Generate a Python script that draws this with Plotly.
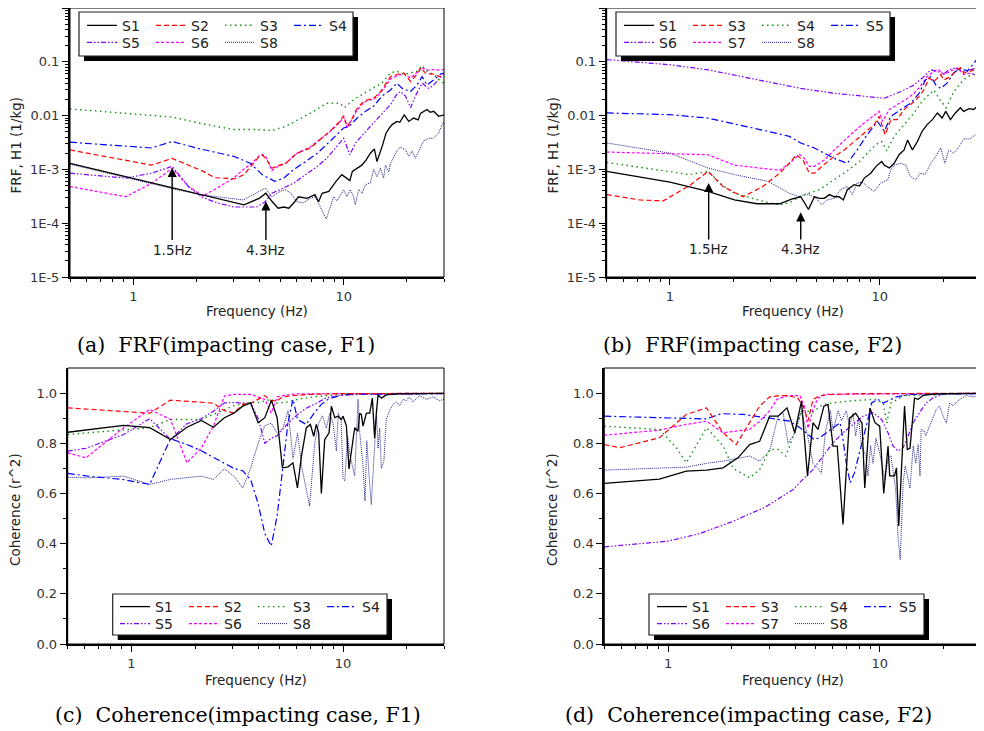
import math
import plotly.graph_objects as go

# page is rendered with an 8px body margin, so the figure is 8px smaller than the window
OFF = 8
W, H = 984 - OFF, 731 - OFF

# ---------------- data : panel (a) FRF, F1 ----------------
A_S1_F = [0.5, 0.92, 1.53, 2.44, 3.36, 3.97, 4.27, 4.58, 4.88, 5.19, 5.49, 5.8, 6.1, 6.7, 7.3, 7.6, 7.9, 8.5, 9.2, 9.8, 10.4, 10.7, 11.0, 11.6, 12.2, 12.8, 13.4, 14.0, 14.4, 15.3, 15.9, 16.5, 17.0, 17.9, 18.5, 19.4, 20.4, 21.5, 22.6, 23.2, 24.9, 25.8, 26.8, 28.3, 30.0]
A_S1_Y = [1.3e-3, 7.4e-4, 4.6e-4, 3.0e-4, 2.2e-4, 2.9e-4, 3.6e-4, 2.5e-4, 1.9e-4, 2.0e-4, 1.9e-4, 2.4e-4, 3.1e-4, 2.9e-4, 3.4e-4, 2.5e-4, 3.6e-4, 3.9e-4, 6.0e-4, 8.0e-4, 6.9e-4, 6.2e-4, 9.2e-4, 1.06e-3, 1.2e-3, 1.5e-3, 2.0e-3, 2.4e-3, 1.4e-3, 2.8e-3, 4.7e-3, 5.9e-3, 6.8e-3, 7.8e-3, 7.5e-3, 1.03e-2, 7.8e-3, 9.0e-3, 8.3e-3, 1.1e-2, 1.3e-2, 1.15e-2, 1.2e-2, 9.7e-3, 1.03e-2]
A_S2_F = [0.5, 1.22, 1.53, 2.14, 2.44, 3.05, 3.36, 3.66, 3.97, 4.1, 4.27, 4.56, 4.8, 5.3, 6.0, 6.94, 7.7, 8.6, 9.6, 10.0, 10.4, 10.9, 11.5, 12.2, 12.9, 13.9, 15.0, 15.8, 16.7, 17.9, 19.3, 20.8, 22.0, 23.4, 24.6, 26.8, 28.6, 30.0]
A_S2_Y = [2.3e-3, 1.2e-3, 1.6e-3, 9.3e-4, 7.0e-4, 6.7e-4, 8.0e-4, 1.2e-3, 1.75e-3, 1.85e-3, 1.6e-3, 1.05e-3, 1.15e-3, 1.3e-3, 2.0e-3, 2.5e-3, 3.5e-3, 5.1e-3, 7.8e-3, 1.0e-2, 6.3e-3, 8.4e-3, 1.3e-2, 1.7e-2, 1.95e-2, 2.1e-2, 2.8e-2, 3.8e-2, 5.3e-2, 5.8e-2, 6.2e-2, 4.3e-2, 5.5e-2, 7.7e-2, 6.0e-2, 5.9e-2, 5.3e-2, 4.9e-2]
A_S3_F = [0.5, 1.53, 2.08, 3.0, 3.8, 4.56, 5.3, 6.1, 7.2, 8.3, 9.6, 10.1, 11.2, 12.5, 13.9, 15.2, 16.7, 17.9, 19.3, 20.8, 22.3, 23.6, 24.9, 26.8, 28.9, 30.0]
A_S3_Y = [1.33e-2, 9.4e-3, 7.2e-3, 5.5e-3, 5.5e-3, 5.3e-3, 6.3e-3, 8.4e-3, 1.2e-2, 1.7e-2, 1.7e-2, 1.4e-2, 2.0e-2, 2.6e-2, 3.3e-2, 4.0e-2, 6.2e-2, 6.7e-2, 5.8e-2, 6.2e-2, 6.7e-2, 8.5e-2, 6.7e-2, 5.8e-2, 4.3e-2, 4.0e-2]
A_S4_F = [0.5, 1.22, 1.53, 2.08, 3.0, 3.6, 4.1, 4.7, 5.2, 5.8, 6.6, 7.5, 8.3, 9.3, 10.0, 10.6, 11.6, 12.7, 13.9, 15.2, 16.7, 17.9, 19.0, 20.8, 22.3, 23.6, 24.9, 26.8, 28.9, 30.0]
A_S4_Y = [3.2e-3, 2.5e-3, 3.3e-3, 2.4e-3, 1.75e-3, 1.3e-3, 8.0e-4, 6.0e-4, 6.9e-4, 1.0e-3, 1.4e-3, 2.0e-3, 2.9e-3, 4.4e-3, 5.9e-3, 6.3e-3, 9.0e-3, 1.2e-2, 1.5e-2, 2.3e-2, 3.0e-2, 4.0e-2, 3.2e-2, 2.8e-2, 3.7e-2, 5.3e-2, 3.7e-2, 4.6e-2, 5.9e-2, 6.2e-2]
A_S5_F = [0.5, 0.92, 1.22, 1.53, 1.83, 2.14, 2.5, 3.0, 3.34, 3.86, 4.24, 4.56, 4.99, 5.8, 6.6, 7.5, 8.3, 9.3, 10.0, 10.7, 11.4, 12.5, 13.9, 15.2, 16.7, 17.9, 18.6, 19.7, 20.8, 21.9, 23.6, 25.4, 26.8, 28.9, 30.0]
A_S5_Y = [8.5e-4, 6.9e-4, 8.5e-4, 1.14e-3, 4.8e-4, 3.0e-4, 2.4e-4, 2.0e-4, 2.0e-4, 2.0e-4, 2.5e-4, 3.6e-4, 4.2e-4, 5.6e-4, 8.0e-4, 1.14e-3, 1.6e-3, 2.7e-3, 3.8e-3, 1.87e-3, 3.1e-3, 4.7e-3, 7.3e-3, 1.04e-2, 1.6e-2, 2.5e-2, 2.8e-2, 2.3e-2, 1.4e-2, 2.3e-2, 4.0e-2, 3.2e-2, 3.7e-2, 5.3e-2, 5.8e-2]
A_S6_F = [0.5, 0.92, 1.22, 1.53, 1.83, 2.14, 2.5, 3.0, 3.34, 3.66, 3.97, 4.1, 4.27, 4.56, 4.8, 5.3, 6.0, 6.94, 7.7, 8.6, 9.6, 10.0, 10.4, 10.9, 11.5, 12.2, 12.9, 13.9, 15.0, 15.8, 16.7, 17.9, 19.3, 20.8, 22.0, 23.4, 24.6, 26.8, 28.6, 30.0]
A_S6_Y = [4.8e-4, 3.1e-4, 5.5e-4, 1.05e-3, 4.8e-4, 3.2e-4, 4.5e-4, 6.9e-4, 1.0e-3, 1.3e-3, 1.8e-3, 1.9e-3, 1.7e-3, 9.5e-4, 1.1e-3, 1.3e-3, 2.0e-3, 2.6e-3, 3.6e-3, 5.0e-3, 7.5e-3, 9.5e-3, 5.8e-3, 8.0e-3, 1.2e-2, 1.6e-2, 1.9e-2, 2.0e-2, 2.7e-2, 3.5e-2, 4.8e-2, 5.5e-2, 6.0e-2, 5.0e-2, 6.0e-2, 8.0e-2, 7.0e-2, 7.2e-2, 7.0e-2, 7.2e-2]
A_S8_F = [0.5, 0.92, 1.53, 2.08, 3.34, 4.24, 4.56, 4.99, 5.28, 5.57, 6.0, 6.45, 6.94, 7.33, 7.74, 8.03, 8.27, 8.64, 8.96, 9.29, 9.64, 10.0, 10.37, 10.76, 11.16, 11.36, 11.79, 12.23, 12.68, 13.4, 13.9, 14.4, 14.95, 15.5, 15.8, 16.4, 16.7, 17.9, 18.6, 19.7, 20.4, 21.2, 21.9, 22.8, 24.0, 25.4, 26.8, 28.3, 29.9]
A_S8_Y = [1.25e-3, 7.0e-4, 4.4e-4, 3.4e-4, 2.7e-4, 4.5e-4, 3.1e-4, 3.9e-4, 4.2e-4, 3.7e-4, 2.5e-4, 2.4e-4, 2.9e-4, 3.1e-4, 2.0e-4, 1.6e-4, 1.2e-4, 2.0e-4, 3.1e-4, 2.6e-4, 3.4e-4, 4.2e-4, 3.1e-4, 4.2e-4, 3.1e-4, 2.2e-4, 4.2e-4, 3.6e-4, 5.2e-4, 5.6e-4, 1.0e-3, 7.3e-4, 1.06e-3, 6.9e-4, 1.2e-3, 9.0e-4, 1.3e-3, 2.2e-3, 2.6e-3, 2.3e-3, 1.75e-3, 2.2e-3, 1.6e-3, 2.3e-3, 3.4e-3, 3.8e-3, 3.8e-3, 4.8e-3, 7.8e-3]

# ---------------- data : panel (b) FRF, F2 ----------------
B_S1_F = [0.5, 1.0, 1.52, 2.03, 2.6, 3.33, 3.8, 4.2, 4.35, 4.57, 4.88, 5.15, 5.44, 5.75, 6.07, 6.4, 6.7, 7.0, 7.55, 8.0, 8.43, 9.05, 9.6, 10.2, 10.5, 11.1, 11.7, 12.35, 13.05, 13.55, 14.3, 15.1, 15.9, 16.8, 17.8, 18.8, 19.8, 20.6, 21.7, 22.9, 24.2, 25.1, 26.6, 28.0, 29.6, 30.0]
B_S1_Y = [9.2e-4, 5.8e-4, 3.9e-4, 2.7e-4, 2.3e-4, 2.3e-4, 2.8e-4, 3.1e-4, 2.5e-4, 1.8e-4, 3.1e-4, 2.9e-4, 2.9e-4, 3.4e-4, 3.1e-4, 3.1e-4, 2.7e-4, 4.2e-4, 5.2e-4, 4.9e-4, 6.9e-4, 8.5e-4, 1.14e-3, 1.4e-3, 1.2e-3, 1.06e-3, 1.3e-3, 1.87e-3, 2.3e-3, 3.5e-3, 2.3e-3, 3.3e-3, 5.1e-3, 6.8e-3, 8.4e-3, 1.12e-2, 9.0e-3, 1.2e-2, 8.4e-3, 1.12e-2, 1.4e-2, 1.2e-2, 1.35e-2, 1.3e-2, 1.6e-2, 1.6e-2]
B_S3_F = [0.5, 0.72, 0.93, 1.24, 1.52, 1.79, 2.23, 2.77, 3.33, 3.71, 4.0, 4.3, 4.62, 4.88, 5.3, 6.07, 6.77, 7.55, 8.43, 9.4, 9.93, 10.3, 10.6, 11.3, 12.1, 13.05, 14.0, 15.1, 16.2, 17.15, 18.1, 19.5, 20.2, 21.7, 22.9, 24.2, 25.1, 27.1, 30.0]
B_S3_Y = [3.4e-4, 2.7e-4, 2.6e-4, 5.0e-4, 9.2e-4, 4.8e-4, 3.1e-4, 4.8e-4, 8.5e-4, 1.3e-3, 1.87e-3, 1.5e-3, 8.5e-4, 8.5e-4, 1.14e-3, 1.75e-3, 2.3e-3, 3.3e-3, 4.7e-3, 6.8e-3, 9.7e-3, 5.9e-3, 4.4e-3, 8.4e-3, 8.4e-3, 1.3e-2, 1.6e-2, 2.1e-2, 3.0e-2, 5.0e-2, 4.3e-2, 5.8e-2, 4.6e-2, 5.3e-2, 6.7e-2, 7.7e-2, 6.2e-2, 6.7e-2, 8.0e-2]
B_S4_F = [0.5, 1.24, 1.52, 1.79, 2.03, 2.44, 2.93, 3.33, 3.71, 4.14, 4.62, 5.15, 5.75, 6.41, 7.15, 7.98, 8.9, 9.6, 10.2, 10.8, 11.7, 13.05, 14.55, 15.9, 17.15, 18.1, 19.1, 20.7, 22.5, 24.2, 26.1, 28.0, 30.0]
B_S4_Y = [1.35e-3, 8.0e-4, 9.2e-4, 5.0e-4, 3.6e-4, 2.9e-4, 2.4e-4, 2.2e-4, 2.4e-4, 3.1e-4, 3.6e-4, 4.2e-4, 5.6e-4, 7.4e-4, 1.0e-3, 1.4e-3, 2.2e-3, 2.9e-3, 3.3e-3, 2.2e-3, 4.1e-3, 6.8e-3, 1.12e-2, 1.85e-2, 2.5e-2, 3.0e-2, 2.1e-2, 1.4e-2, 2.8e-2, 4.0e-2, 5.3e-2, 5.8e-2, 6.0e-2]
B_S5_F = [0.5, 1.0, 1.52, 2.03, 2.93, 3.71, 4.2, 4.88, 5.44, 6.07, 7.0, 7.8, 8.7, 9.75, 10.5, 11.3, 12.6, 14.0, 15.4, 16.5, 17.5, 18.5, 19.5, 20.9, 22.5, 24.2, 26.1, 27.6, 30.0]
B_S5_Y = [1.12e-2, 1.04e-2, 9.0e-3, 7.1e-3, 5.1e-3, 4.1e-3, 3.1e-3, 2.5e-3, 2.0e-3, 1.6e-3, 1.3e-3, 2.3e-3, 4.4e-3, 7.8e-3, 5.1e-3, 9.7e-3, 1.3e-2, 1.7e-2, 2.6e-2, 4.6e-2, 5.3e-2, 3.7e-2, 3.2e-2, 4.0e-2, 6.2e-2, 7.7e-2, 6.7e-2, 8.8e-2, 0.13]
B_S6_F = [0.5, 1.0, 1.52, 2.03, 2.93, 4.2, 6.07, 8.7, 10.5, 12.6, 14.55, 16.2, 17.5, 18.8, 20.2, 21.3, 22.9, 25.1, 27.1, 30.0]
B_S6_Y = [0.11, 0.088, 0.071, 0.057, 0.043, 0.032, 0.026, 0.023, 0.021, 0.028, 0.037, 0.053, 0.071, 0.066, 0.06, 0.071, 0.077, 0.066, 0.071, 0.08]
B_S7_F = [0.5, 1.0, 1.52, 2.03, 2.23, 2.93, 3.33, 3.71, 4.14, 4.3, 4.62, 4.88, 5.44, 6.07, 6.77, 7.55, 8.43, 9.4, 9.93, 10.3, 11.1, 12.1, 13.3, 14.55, 15.6, 16.8, 18.1, 19.1, 20.2, 21.7, 23.4, 25.1, 27.1, 30.0]
B_S7_Y = [2.1e-3, 1.95e-3, 1.87e-3, 1.2e-3, 1.15e-3, 9.9e-4, 9.6e-4, 1.3e-3, 1.87e-3, 1.75e-3, 1.14e-3, 1.14e-3, 1.5e-3, 2.3e-3, 3.5e-3, 5.1e-3, 7.3e-3, 1.04e-2, 1.2e-2, 7.8e-3, 1.3e-2, 1.6e-2, 2.0e-2, 2.6e-2, 3.5e-2, 5.3e-2, 6.7e-2, 7.1e-2, 5.8e-2, 6.7e-2, 7.7e-2, 5.8e-2, 6.2e-2, 5.0e-2]
B_S8_F = [0.5, 1.0, 1.52, 2.03, 2.93, 3.33, 3.71, 4.14, 4.45, 4.88, 5.3, 5.6, 6.07, 6.5, 7.0, 7.4, 7.8, 8.3, 8.7, 9.4, 10.1, 10.9, 11.3, 11.7, 12.6, 13.3, 14.0, 14.8, 15.6, 16.4, 17.5, 18.5, 19.5, 20.4, 21.3, 22.5, 23.8, 25.1, 26.9, 28.5, 30.0]
B_S8_Y = [3.1e-3, 2.0e-3, 1.06e-3, 8.0e-4, 6.0e-4, 4.5e-4, 3.6e-4, 3.1e-4, 3.5e-4, 3.1e-4, 2.2e-4, 2.7e-4, 2.9e-4, 4.2e-4, 4.8e-4, 3.4e-4, 5.6e-4, 5.8e-4, 4.8e-4, 3.9e-4, 5.6e-4, 6.4e-4, 1.0e-3, 1.2e-3, 1.3e-3, 1.2e-3, 7.4e-4, 6.4e-4, 8.5e-4, 8.0e-4, 1.3e-3, 1.75e-3, 2.5e-3, 1.3e-3, 2.3e-3, 2.0e-3, 2.6e-3, 3.7e-3, 3.7e-3, 4.4e-3, 5.5e-3]

# ---------------- data : panel (c) coherence, F1 ----------------
C_S1_F = [0.5, 0.92, 1.22, 1.53, 1.83, 2.14, 2.44, 2.75, 3.05, 3.36, 3.66, 3.97, 4.27, 4.59, 4.88, 5.17, 5.5, 5.8, 6.09, 6.36, 6.71, 7.01, 7.27, 7.48, 7.67, 7.9, 8.19, 8.59, 8.81, 9.14, 9.47, 9.81, 10.0, 10.37, 10.67, 11.03, 11.35, 11.77, 11.98, 12.2, 12.43, 12.9, 13.37, 13.76, 14.1, 14.37, 14.64, 15.18, 16.0, 18.0, 22.0, 30.0]
C_S1_Y = [0.844, 0.871, 0.862, 0.815, 0.864, 0.891, 0.864, 0.902, 0.92, 0.948, 0.961, 0.882, 0.902, 0.972, 0.902, 0.702, 0.706, 0.722, 0.622, 0.749, 0.862, 0.875, 0.828, 0.875, 0.842, 0.60, 0.814, 0.842, 0.948, 0.902, 0.908, 0.895, 0.908, 0.87, 0.698, 0.79, 0.862, 0.848, 0.92, 0.915, 0.868, 0.92, 0.92, 0.98, 0.82, 0.92, 0.993, 0.98, 0.993, 0.997, 0.998, 0.999]
C_S2_F = [0.5, 1.22, 1.53, 2.14, 2.44, 2.75, 3.05, 3.36, 3.66, 3.97, 4.27, 4.58, 4.88, 5.19, 5.8, 7.0, 10.0, 30.0]
C_S2_Y = [0.941, 0.92, 0.972, 0.965, 0.96, 0.93, 0.92, 0.955, 0.96, 0.975, 0.99, 0.97, 0.97, 0.985, 0.99, 0.995, 0.998, 0.999]
C_S3_F = [0.5, 1.22, 1.53, 2.14, 2.44, 2.75, 3.05, 3.66, 3.97, 4.58, 4.88, 5.49, 6.1, 7.3, 8.5, 10.4, 30.0]
C_S3_Y = [0.835, 0.862, 0.895, 0.895, 0.915, 0.935, 0.95, 0.962, 0.962, 0.975, 0.96, 0.965, 0.975, 0.985, 0.99, 0.997, 0.999]
C_S4_F = [0.5, 0.61, 0.92, 1.22, 1.53, 1.83, 2.14, 2.44, 2.75, 3.05, 3.36, 3.66, 3.97, 4.27, 4.58, 4.88, 5.19, 5.49, 5.8, 6.1, 6.7, 7.3, 7.9, 8.5, 10.0, 30.0]
C_S4_Y = [0.68, 0.67, 0.655, 0.636, 0.818, 0.795, 0.77, 0.745, 0.72, 0.70, 0.69, 0.655, 0.56, 0.44, 0.39, 0.51, 0.70, 0.88, 0.975, 0.895, 0.875, 0.92, 0.955, 0.975, 0.995, 0.998]
C_S5_F = [0.5, 0.61, 0.92, 1.22, 1.53, 1.83, 2.14, 2.44, 2.75, 3.05, 3.66, 3.97, 4.27, 4.58, 4.88, 5.19, 5.5, 6.1, 6.7, 7.5, 8.3, 9.5, 12.0, 30.0]
C_S5_Y = [0.769, 0.78, 0.835, 0.898, 0.815, 0.878, 0.898, 0.928, 0.961, 0.962, 0.96, 0.90, 0.80, 0.82, 0.83, 0.855, 0.88, 0.915, 0.94, 0.96, 0.98, 0.99, 0.995, 0.998]
C_S6_F = [0.5, 0.61, 0.92, 1.22, 1.53, 1.83, 2.14, 2.44, 2.75, 3.05, 3.66, 4.27, 4.58, 4.88, 5.19, 6.0, 30.0]
C_S6_Y = [0.762, 0.742, 0.862, 0.935, 0.895, 0.722, 0.782, 0.868, 0.988, 0.995, 0.995, 0.975, 0.92, 0.985, 0.99, 0.997, 0.999]
C_S8_F = [0.5, 0.61, 0.92, 1.22, 1.53, 2.14, 2.44, 2.75, 3.05, 3.36, 3.66, 3.97, 4.27, 4.58, 4.88, 5.2, 5.5, 5.8, 6.1, 6.4, 6.95, 7.35, 7.67, 8.0, 8.34, 8.65, 8.97, 9.3, 9.5, 9.8, 10.0, 10.2, 10.5, 10.8, 11.35, 11.77, 12.0, 12.4, 12.7, 12.95, 13.3, 13.6, 14.1, 14.4, 14.64, 14.9, 15.18, 15.6, 16.0, 16.6, 17.2, 17.9, 18.5, 19.2, 19.9, 20.6, 21.4, 23.0, 24.8, 26.6, 28.6, 30.0]
C_S8_Y = [0.665, 0.662, 0.669, 0.636, 0.656, 0.669, 0.656, 0.698, 0.669, 0.622, 0.70, 0.80, 0.87, 0.88, 0.84, 0.86, 0.93, 0.74, 0.84, 0.70, 0.55, 0.80, 0.88, 0.91, 0.86, 0.92, 0.88, 0.77, 0.92, 0.89, 0.66, 0.65, 0.83, 0.75, 0.67, 0.975, 0.84, 0.72, 0.57, 0.81, 0.66, 0.556, 0.79, 0.91, 0.78, 0.86, 0.70, 0.73, 0.895, 0.93, 0.955, 0.965, 0.95, 0.975, 0.97, 0.985, 0.965, 0.99, 0.975, 0.985, 0.97, 0.975]

# ---------------- data : panel (d) coherence, F2 ----------------
D_S1_F = [0.5, 0.91, 1.22, 1.52, 1.82, 2.14, 2.43, 2.71, 3.02, 3.31, 3.65, 3.97, 4.27, 4.56, 4.84, 5.11, 5.45, 5.7, 6.02, 6.3, 6.71, 7.2, 7.7, 8.25, 8.5, 9.0, 9.5, 10.0, 10.45, 10.95, 11.15, 11.75, 12.0, 12.3, 13.1, 13.5, 13.9, 14.6, 15.2, 16.0, 17.2, 20.0, 30.0]
D_S1_Y = [0.64, 0.657, 0.689, 0.693, 0.702, 0.742, 0.795, 0.808, 0.908, 0.908, 0.941, 0.842, 0.968, 0.669, 0.882, 0.855, 0.948, 0.955, 0.789, 0.789, 0.476, 0.90, 0.92, 0.88, 0.622, 0.94, 0.882, 0.868, 0.60, 0.789, 0.67, 0.67, 0.702, 0.47, 0.948, 0.775, 0.78, 0.98, 0.975, 0.99, 0.995, 0.998, 0.999]
D_S3_F = [0.5, 0.59, 0.91, 1.22, 1.52, 1.82, 2.1, 2.43, 2.71, 3.02, 3.35, 3.7, 4.1, 4.35, 4.59, 4.84, 5.2, 6.0, 8.0, 30.0]
D_S3_Y = [0.795, 0.782, 0.822, 0.915, 0.941, 0.842, 0.795, 0.882, 0.948, 0.985, 0.99, 0.99, 0.98, 0.948, 0.89, 0.975, 0.99, 0.995, 0.998, 0.999]
D_S4_F = [0.5, 0.91, 1.1, 1.22, 1.52, 1.82, 2.03, 2.43, 2.71, 3.02, 3.31, 3.6, 3.97, 4.27, 4.5, 4.84, 5.4, 6.0, 7.5, 9.5, 10.4, 10.8, 11.3, 13.0, 30.0]
D_S4_Y = [0.868, 0.855, 0.78, 0.722, 0.862, 0.79, 0.70, 0.662, 0.695, 0.775, 0.775, 0.749, 0.842, 0.93, 0.928, 0.925, 0.955, 0.961, 0.97, 0.975, 0.96, 0.88, 0.96, 0.99, 0.999]
D_S5_F = [0.5, 1.0, 1.52, 1.78, 2.27, 3.02, 3.75, 4.2, 4.5, 4.9, 5.2, 5.6, 6.1, 6.5, 6.71, 6.95, 7.25, 7.6, 7.95, 8.34, 8.8, 9.15, 9.8, 10.4, 10.95, 12.0, 14.0, 30.0]
D_S5_Y = [0.908, 0.90, 0.897, 0.918, 0.915, 0.90, 0.888, 0.862, 0.842, 0.815, 0.822, 0.842, 0.868, 0.882, 0.815, 0.722, 0.642, 0.682, 0.749, 0.815, 0.895, 0.961, 0.975, 0.96, 0.968, 0.985, 0.995, 0.998]
D_S6_F = [0.5, 1.0, 1.41, 2.03, 2.5, 2.85, 3.37, 3.9, 4.32, 4.84, 5.4, 6.02, 6.71, 7.48, 8.34, 9.3, 10.2, 10.95, 11.56, 12.2, 12.9, 13.6, 14.4, 15.6, 16.6, 17.9, 19.9, 30.0]
D_S6_Y = [0.387, 0.41, 0.44, 0.489, 0.523, 0.543, 0.582, 0.616, 0.655, 0.695, 0.749, 0.802, 0.842, 0.875, 0.908, 0.922, 0.895, 0.842, 0.789, 0.769, 0.782, 0.828, 0.882, 0.928, 0.961, 0.981, 0.995, 0.998]
D_S7_F = [0.5, 0.9, 1.22, 1.52, 1.82, 2.1, 2.43, 2.71, 3.02, 3.27, 3.69, 4.2, 4.4, 4.59, 4.84, 5.11, 5.5, 30.0]
D_S7_Y = [0.832, 0.852, 0.875, 0.888, 0.842, 0.848, 0.855, 0.888, 0.93, 0.975, 0.99, 0.99, 0.948, 0.86, 0.935, 0.98, 0.995, 0.999]
D_S8_F = [0.5, 0.9, 1.22, 1.52, 1.82, 2.43, 2.71, 3.02, 3.31, 3.5, 3.69, 3.97, 4.27, 4.59, 4.84, 5.11, 5.3, 5.55, 5.85, 6.02, 6.36, 6.6, 6.95, 7.2, 7.48, 7.7, 7.95, 8.2, 8.6, 8.8, 9.05, 9.3, 9.6, 10.0, 10.6, 10.95, 11.3, 11.9, 12.05, 12.2, 12.5, 12.7, 12.9, 13.2, 13.9, 14.4, 14.8, 15.2, 15.5, 15.7, 16.2, 16.5, 17.2, 17.9, 18.5, 19.2, 19.9, 20.65, 21.4, 22.2, 23.9, 25.7, 27.6, 30.0]
D_S8_Y = [0.693, 0.70, 0.705, 0.72, 0.729, 0.749, 0.729, 0.769, 0.908, 0.92, 0.80, 0.84, 0.93, 0.82, 0.72, 0.70, 0.68, 0.85, 0.93, 0.85, 0.93, 0.89, 0.93, 0.87, 0.92, 0.83, 0.90, 0.79, 0.75, 0.67, 0.79, 0.72, 0.82, 0.76, 0.655, 0.74, 0.75, 0.616, 0.52, 0.43, 0.336, 0.50, 0.64, 0.71, 0.62, 0.79, 0.72, 0.795, 0.67, 0.855, 0.85, 0.83, 0.868, 0.908, 0.935, 0.948, 0.91, 0.88, 0.96, 0.95, 0.975, 0.99, 0.985, 0.99]

# ---------------- tick labels / texts ----------------
X_TICKS = [1, 10]
X_TICKTEXT = ["1", "10"]
X_MINOR = [0.5, 0.6, 0.7, 0.8, 0.9, 2, 3, 4, 5, 6, 7, 8, 9, 20, 30]
YLOG_TICKS = [1e-5, 1e-4, 1e-3, 1e-2, 1e-1, 1]
YLOG_TICKTEXT = ["1E-5", "1E-4", "1E-3", "0.01", "0.1", "1"]
YLOG_MINOR = [m * d for d in [1e-5, 1e-4, 1e-3, 1e-2, 1e-1] for m in range(2, 10)]
YLIN_TICKS = [0.0, 0.2, 0.4, 0.6, 0.8, 1.0]
YLIN_TICKTEXT = ["0.0", "0.2", "0.4", "0.6", "0.8", "1.0"]
YLIN_MINOR = [0.1, 0.3, 0.5, 0.7, 0.9]
CAPTIONS = ["(a)\u00a0 FRF(impacting case, F1)", "(b)\u00a0 FRF(impacting case, F2)",
            "(c)\u00a0 Coherence(impacting case, F1)", "(d)\u00a0 Coherence(impacting case, F2)"]

# ---------------- styles ----------------
STY = {
    'k': dict(color='#000000', dash='solid', width=1.3),
    'r': dict(color='#FF0000', dash='5px,3px', width=1.2),
    'g': dict(color='#109010', dash='1.5px,3.5px', width=1.4),
    'b': dict(color='#0000FF', dash='7px,3px,2px,3px', width=1.2),
    'p': dict(color='#8000FF', dash='5px,2px,1.5px,2px,1.5px,2px', width=1.2),
    'm': dict(color='#FF00FF', dash='3px,2px', width=1.2),
    'n': dict(color='#202088', dash='1px,1px', width=1.0),
}

def px_x(p):
    return (p - OFF) / W

def px_y(p):
    return 1 - (p - OFF) / H

# panel geometry (window pixels)
PANELS = {
    'a': dict(x0=70, x1=444, y0=8, y1=277, xa='x', ya='y', log=True),
    'b': dict(x0=606.7, x1=980, y0=8, y1=277, xa='x2', ya='y2', log=True),
    'c': dict(x0=67.7, x1=444, y0=368, y1=644, xa='x3', ya='y3', log=False),
    'd': dict(x0=604.3, x1=980.7, y0=368, y1=644, xa='x4', ya='y4', log=False),
}

SERIES = {
    'a': [('S1', A_S1_F, A_S1_Y, 'k'), ('S2', A_S2_F, A_S2_Y, 'r'), ('S3', A_S3_F, A_S3_Y, 'g'), ('S4', A_S4_F, A_S4_Y, 'b'),
          ('S5', A_S5_F, A_S5_Y, 'p'), ('S6', A_S6_F, A_S6_Y, 'm'), ('S8', A_S8_F, A_S8_Y, 'n')],
    'b': [('S1', B_S1_F, B_S1_Y, 'k'), ('S3', B_S3_F, B_S3_Y, 'r'), ('S4', B_S4_F, B_S4_Y, 'g'), ('S5', B_S5_F, B_S5_Y, 'b'),
          ('S6', B_S6_F, B_S6_Y, 'p'), ('S7', B_S7_F, B_S7_Y, 'm'), ('S8', B_S8_F, B_S8_Y, 'n')],
    'c': [('S1', C_S1_F, C_S1_Y, 'k'), ('S2', C_S2_F, C_S2_Y, 'r'), ('S3', C_S3_F, C_S3_Y, 'g'), ('S4', C_S4_F, C_S4_Y, 'b'),
          ('S5', C_S5_F, C_S5_Y, 'p'), ('S6', C_S6_F, C_S6_Y, 'm'), ('S8', C_S8_F, C_S8_Y, 'n')],
    'd': [('S1', D_S1_F, D_S1_Y, 'k'), ('S3', D_S3_F, D_S3_Y, 'r'), ('S4', D_S4_F, D_S4_Y, 'g'), ('S5', D_S5_F, D_S5_Y, 'b'),
          ('S6', D_S6_F, D_S6_Y, 'p'), ('S7', D_S7_F, D_S7_Y, 'm'), ('S8', D_S8_F, D_S8_Y, 'n')],
}

# legend boxes (window pixels): left, top, right, bottom ; row centres
LEG_BOX = {'a': (79, 12, 353, 56), 'b': (616, 12, 890, 56), 'c': (112.7, 594, 387, 635), 'd': (649, 594, 924, 635)}
LEG_ROWS = {'a': (25.7, 42.7), 'b': (25.7, 42.7), 'c': (607, 624), 'd': (607, 624)}
LEG_SAMPLE_X = {'a': 87, 'b': 624, 'c': 120, 'd': 657}
LEG_NAMES = {'a': ('legend', 'legend2'), 'b': ('legend3', 'legend4'), 'c': ('legend5', 'legend6'), 'd': ('legend7', 'legend8')}

FONT_SANS = "DejaVu Sans"
TICKFONT = dict(family=FONT_SANS, size=13, color='#333333')

fig = go.Figure()

for key, series in SERIES.items():
    P = PANELS[key]
    l1, l2 = LEG_NAMES[key]
    n = len(series)
    for idx in reversed(range(n)):
        name, f, y, st = series[idx]
        if len(f) != len(y):
            raise ValueError(f"length mismatch {key} {name}: {len(f)} vs {len(y)}")
        s = STY[st]
        fig.add_trace(go.Scatter(
            x=f, y=y, mode='lines', name=name,
            line=dict(color=s['color'], dash=s['dash'], width=s['width']),
            xaxis=P['xa'], yaxis=P['ya'],
            legend=l1 if idx < 4 else l2, legendrank=idx + 1,
            showlegend=True, hoverinfo='skip'))

layout = dict(width=W, height=H, margin=dict(l=0, r=0, t=0, b=0, pad=0, autoexpand=False),
              paper_bgcolor='white', plot_bgcolor='white', showlegend=True)

for key, P in PANELS.items():
    xs = P['xa'].replace('x', 'xaxis')
    ys = P['ya'].replace('y', 'yaxis')
    layout[xs] = dict(domain=[px_x(P['x0']), px_x(P['x1'])], anchor=P['ya'], type='log',
                      range=[math.log10(0.5), math.log10(30)], tickmode='array', tickvals=X_TICKS,
                      ticktext=X_TICKTEXT, ticks='outside', ticklen=6, tickwidth=1, tickcolor='black',
                      showline=True, linecolor='black', linewidth=2, mirror=False, showgrid=False,
                      zeroline=False, tickfont=TICKFONT,
                      minor=dict(tickmode='array', tickvals=X_MINOR, ticks='outside', ticklen=3,
                                 tickcolor='black', tickwidth=1, showgrid=False))
    if P['log']:
        layout[ys] = dict(domain=[px_y(P['y1']), px_y(P['y0'])], anchor=P['xa'], type='log', range=[-5, 0],
                          tickmode='array', tickvals=YLOG_TICKS, ticktext=YLOG_TICKTEXT,
                          minor=dict(tickmode='array', tickvals=YLOG_MINOR, ticks='outside', ticklen=3,
                                     tickcolor='black', tickwidth=1, showgrid=False))
    else:
        layout[ys] = dict(domain=[px_y(P['y1']), px_y(P['y0'])], anchor=P['xa'], type='linear', range=[0, 1.1],
                          tickmode='array', tickvals=YLIN_TICKS, ticktext=YLIN_TICKTEXT,
                          minor=dict(tickmode='array', tickvals=YLIN_MINOR, ticks='outside', ticklen=3,
                                     tickcolor='black', tickwidth=1, showgrid=False))
    layout[ys].update(ticks='outside', ticklen=6, tickwidth=1, tickcolor='black', showline=True,
                      linecolor='black', linewidth=2, mirror=False, showgrid=False, zeroline=False,
                      tickfont=TICKFONT)

# legends (two rows each)
for key in PANELS:
    l1, l2 = LEG_NAMES[key]
    r1, r2 = LEG_ROWS[key]
    sx = LEG_SAMPLE_X[key]
    for lname, ry in ((l1, r1), (l2, r2)):
        layout[lname] = dict(orientation='h', x=px_x(sx - 5), y=px_y(ry), xanchor='left', yanchor='middle',
                             bgcolor='rgba(0,0,0,0)', borderwidth=0, itemwidth=30,
                             entrywidth=24, entrywidthmode='pixels', tracegroupgap=0,
                             font=dict(family=FONT_SANS, size=14, color='#222222'), itemclick=False)

shapes = []
for key, P in PANELS.items():
    # thin frame (top / right)
    shapes.append(dict(type='rect', xref=f"{P['xa']} domain", yref=f"{P['ya']} domain", x0=0, x1=1, y0=0, y1=1,
                       line=dict(color='black', width=1), fillcolor='rgba(0,0,0,0)', layer='above'))
    bl, bt, br, bb = LEG_BOX[key]
    shapes.append(dict(type='rect', xref='paper', yref='paper', x0=px_x(bl + 5), x1=px_x(br + 5),
                       y0=px_y(bb + 5), y1=px_y(bt + 5), line=dict(width=0), fillcolor='black', layer='above'))
    shapes.append(dict(type='rect', xref='paper', yref='paper', x0=px_x(bl), x1=px_x(br),
                       y0=px_y(bb), y1=px_y(bt), line=dict(color='#222222', width=1.2), fillcolor='white',
                       layer='above'))
layout['shapes'] = shapes

ann = []
AXFONT = dict(family=FONT_SANS, size=13.5, color='#222222')
for key, P in PANELS.items():
    cx = (P['x0'] + P['x1']) / 2
    ty = 311 if P['log'] else 680
    ann.append(dict(text='Frequency (Hz)', xref='paper', yref='paper', x=px_x(cx), y=px_y(ty),
                    xanchor='center', yanchor='middle', showarrow=False, font=AXFONT))
    yx = 15 if key in ('a', 'c') else 552
    yy = 145.5 if P['log'] else 510
    ann.append(dict(text='FRF, H1 (1/kg)' if P['log'] else 'Coherence (r^2)', xref='paper', yref='paper',
                    x=px_x(yx), y=px_y(yy), xanchor='center', yanchor='middle', textangle=-90,
                    showarrow=False, font=AXFONT))

CAP_POS = {'a': (226, 345), 'b': (752, 345), 'c': (238, 715), 'd': (748, 715)}
for (key, (cx, cy)), cap in zip(CAP_POS.items(), CAPTIONS):
    ann.append(dict(text=cap, xref='paper', yref='paper', x=px_x(cx), y=px_y(cy), xanchor='center',
                    yanchor='middle', showarrow=False,
                    font=dict(family='DejaVu Serif', size=20.5, color='black')))

# peak markers (frequency, arrow-tip log10 value, text log10 value)
ARROWS = {'a': [('1.5Hz', 1.53, -2.974, -4.49), ('4.3Hz', 4.27, -3.594, -4.49)],
          'b': [('1.5Hz', 1.53, -3.253, -4.48), ('4.3Hz', 4.20, -3.798, -4.48)]}
for key, arr in ARROWS.items():
    P = PANELS[key]
    for txt, fq, tip, tl in arr:
        ann.append(dict(text=txt, xref=P['xa'], yref=P['ya'], x=math.log10(fq), y=tip,
                        axref=P['xa'], ayref=P['ya'], ax=math.log10(fq), ay=tl, showarrow=True,
                        arrowhead=2, arrowsize=1.3, arrowwidth=1.4, arrowcolor='black', standoff=0,
                        font=dict(family=FONT_SANS, size=13.5, color='#222222')))
layout['annotations'] = ann

fig.update_layout(**layout)
fig.write_html("out.html")
